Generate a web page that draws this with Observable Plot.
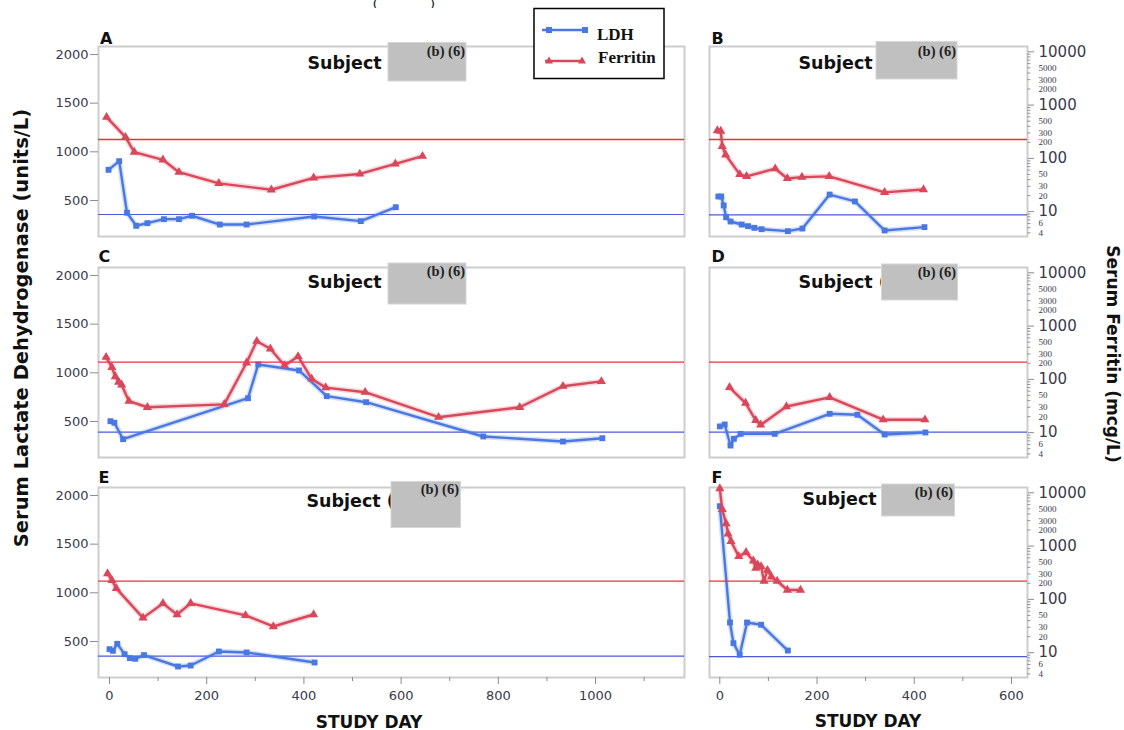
<!DOCTYPE html>
<html><head><meta charset="utf-8">
<script src="https://cdn.jsdelivr.net/npm/d3@7"></script>
<script src="https://cdn.jsdelivr.net/npm/@observablehq/plot@0.6"></script>
<style>
html,body{margin:0;padding:0;background:#fff;}
#root{position:relative;width:1124px;height:730px;overflow:hidden;font-family:"DejaVu Sans",sans-serif;}
.layer{position:absolute;}
</style></head>
<body><div id="root"></div>
<script>
// ---------------- DATA ----------------
// Panel A
const A_ldhDay = [-2, 20, 36, 55, 78, 112, 143, 170, 227, 282, 421, 517, 589];
const A_ldhVal = [815, 904, 374, 240, 267, 308, 308, 343, 253, 253, 336, 288, 431];
const A_ferDay = [-6, 33, 51, 110, 143, 225, 333, 420, 515, 588, 644];
const A_ferVal = [593, 250, 131, 94, 55, 34, 25.8, 43, 51, 79, 110];
// Panel B
const B_ldhDay = [-3, 3, 8, 13, 22, 45, 58, 71, 86, 140, 170, 226, 278, 339, 421];
const B_ldhVal = [541, 541, 449, 328, 284, 253, 236, 219, 205, 185, 212, 561, 490, 192, 226];
const B_ferDay = [-5, 2, 5, 12, 41, 55, 114, 139, 169, 225, 339, 419];
const B_ferVal = [333, 325, 169, 117, 50, 46, 64, 42, 44.5, 46, 23, 26];
// Panel C
const C_ldhDay = [2, 10, 28, 285, 306, 390, 447, 528, 769, 933, 1014];
const C_ldhVal = [503, 487, 318, 739, 1086, 1024, 760, 698, 346, 294, 328];
const C_ferDay = [-7, 5, 12, 19, 25, 40, 78, 236, 282, 303, 331, 360, 388, 416, 445, 526, 677, 844, 933, 1012];
const C_ferVal = [261, 169, 113, 89, 79, 39, 30, 34, 205, 521, 375, 182, 269, 102, 70, 57.5, 19.5, 30, 74.5, 91.5];
// Panel D
const D_ldhDay = [0, 10, 22, 29, 43, 113, 226, 283, 339, 423];
const D_ldhVal = [449, 469, 253, 322, 373, 373, 579, 569, 366, 387];
const D_ferDay = [20, 53, 74, 84, 137, 226, 336, 422];
const D_ferVal = [71, 36, 17, 14, 31, 46, 17.5, 17.5];
// Panel E
const E_ldhDay = [0, 7, 16, 31, 42, 53, 71, 141, 167, 225, 282, 422];
const E_ldhVal = [421, 404, 476, 370, 329, 322, 360, 243, 253, 397, 387, 284];
const E_ferDay = [-4, 5, 14, 69, 110, 139, 167, 280, 337, 420];
const E_ferVal = [305, 228, 161, 45, 84, 52, 84, 50, 31, 52];
// Panel F
const F_ldhDay = [0, 21, 28, 41, 56, 85, 140];
const F_ldhVal = [1890, 695, 483, 363, 695, 672, 407];
const F_ferDay = [0, 5, 13, 17, 23, 39, 54, 69, 74, 78, 85, 91, 98, 106, 118, 139, 166];
const F_ferVal = [12000, 4900, 2630, 1700, 1230, 640, 762, 530, 385, 446, 414, 221, 353, 264, 221, 150, 150];
// Reference lines (LDH upper limit, ferritin reference) per panel A..F
const ldhRef = [356, 353, 390, 390, 349, 345];
const ferRef = [226, 226, 210, 210, 220, 220];
// Ticks
const ldhTicks = [500, 1000, 1500, 2000];
const ferMajorTicks = [10, 100, 1000, 10000];
const ferSmallTicks = [4, 6, 20, 30, 50, 200, 300, 500, 2000, 3000, 5000];
const ferMinorTicks = [4, 5, 6, 7, 8, 9, 20, 30, 40, 50, 60, 70, 80, 90, 200, 300, 400, 500, 600, 700, 800, 900, 2000, 3000, 4000, 5000, 6000, 7000, 8000, 9000];
const dayTicksL = [0, 200, 400, 600, 800, 1000];
const dayMinorL = [100, 300, 500, 700, 900, 1100];
const dayTicksR = [0, 200, 400, 600];
const dayMinorR = [100, 300, 500];
const panelLetters = ["A", "B", "C", "D", "E", "F"];

// ---------------- LAYOUT ----------------
const BLUE = "#4a78e2", RED = "#d9475a";
const FRAME_H = 190, MT = 10, MB = 50;
const ROW_TOP = [46, 267, 487];
const COL = {
  L: {x0: 98, x1: 684, dom: [-22.6, 1183], mL: 60, mR: 12, major: dayTicksL, minor: dayMinorL},
  R: {x0: 709, x1: 1027, dom: [-21.2, 633], mL: 12, mR: 92, major: dayTicksR, minor: dayMinorR}
};
const LDH_DOM = [130, 2082];
const FER_DOM = [3.42, 12570];

const zip = (d, v) => d.map((x, i) => ({day: x, v: v[i]}));
const panels = [
  {ldh: zip(A_ldhDay, A_ldhVal), fer: zip(A_ferDay, A_ferVal), col: "L", row: 0},
  {ldh: zip(B_ldhDay, B_ldhVal), fer: zip(B_ferDay, B_ferVal), col: "R", row: 0},
  {ldh: zip(C_ldhDay, C_ldhVal), fer: zip(C_ferDay, C_ferVal), col: "L", row: 1},
  {ldh: zip(D_ldhDay, D_ldhVal), fer: zip(D_ferDay, D_ferVal), col: "R", row: 1},
  {ldh: zip(E_ldhDay, E_ldhVal), fer: zip(E_ferDay, E_ferVal), col: "L", row: 2},
  {ldh: zip(F_ldhDay, F_ldhVal), fer: zip(F_ferDay, F_ferVal), col: "R", row: 2}
];

const root = document.getElementById("root");

function place(svg, left, top) {
  const div = document.createElement("div");
  div.className = "layer";
  div.style.left = left + "px";
  div.style.top = top + "px";
  div.appendChild(svg);
  root.appendChild(div);
}

const fmt = d => String(d);

panels.forEach((p, i) => {
  const c = COL[p.col];
  const fw = c.x1 - c.x0;
  const width = c.mL + fw + c.mR;
  const height = MT + FRAME_H + MB;
  const left = c.x0 - c.mL, top = ROW_TOP[p.row] - MT;
  const daysPerPx = (c.dom[1] - c.dom[0]) / fw;
  const common = {
    width, height, marginLeft: c.mL, marginRight: c.mR, marginTop: MT, marginBottom: MB,
    style: {background: "none", fontFamily: "DejaVu Sans", color: "#3a3a4a", overflow: "visible"},
    x: {domain: c.dom, axis: null}
  };
  // LDH layer (linear)
  const ldhMarks = [
    Plot.frame({stroke: "#cdcdcd", strokeWidth: 2}),
    Plot.ruleY([ldhRef[i]], {stroke: "#4a5ad8", strokeWidth: 1.2}),
    Plot.line(p.ldh, {x: "day", y: "v", stroke: BLUE, strokeWidth: 5.5, strokeOpacity: 0.22}),
    Plot.line(p.ldh, {x: "day", y: "v", stroke: BLUE, strokeWidth: 2.4}),
    Plot.dot(p.ldh, {x: "day", y: "v", symbol: "square", r: 3.3, fill: BLUE})
  ];
  if (p.col === "L") {
    ldhMarks.push(Plot.axisY({anchor: "left", ticks: ldhTicks, tickSize: 8, tickPadding: 2, fontSize: 13, stroke: "#8c8c8c", tickFormat: fmt, label: null}));
  }
  if (p.row === 2) {
    const ppu = (LDH_DOM[1] - LDH_DOM[0]) / FRAME_H; // LDH units per px
    ldhMarks.push(Plot.axisX({anchor: "bottom", ticks: c.major, tickSize: 7, tickPadding: 6, fontSize: 13, stroke: "#8c8c8c", tickFormat: fmt, label: null}));
    ldhMarks.push(Plot.ruleX(c.minor, {x: d => d, y1: LDH_DOM[0], y2: LDH_DOM[0] - 4 * ppu, stroke: "#8c8c8c", strokeWidth: 1}));
  }
  place(Plot.plot({...common, y: {domain: LDH_DOM, axis: null}, marks: ldhMarks}), left, top);

  // Ferritin layer (log)
  const ferMarks = [
    Plot.ruleY([ferRef[i]], {stroke: "#e8323c", strokeWidth: 1.3}),
    Plot.line(p.fer, {x: "day", y: "v", stroke: RED, strokeWidth: 5.5, strokeOpacity: 0.22}),
    Plot.line(p.fer, {x: "day", y: "v", stroke: RED, strokeWidth: 2.4}),
    Plot.dot(p.fer, {x: "day", y: "v", symbol: "triangle", r: 3.4, fill: RED})
  ];
  if (p.col === "R") {
    const xEdge = c.dom[1];
    ferMarks.push(Plot.ruleY(ferMinorTicks, {y: d => d, x1: xEdge, x2: xEdge + 3.5 * daysPerPx, stroke: "#9a9a9a", strokeWidth: 1}));
    ferMarks.push(Plot.text(ferSmallTicks, {y: d => d, text: fmt, frameAnchor: "right", dx: 11, textAnchor: "start", fontSize: 9, fontFamily: "Liberation Serif", fill: "#3a3a4a"}));
    ferMarks.push(Plot.axisY({anchor: "right", ticks: ferMajorTicks, tickSize: 6, tickPadding: 5, fontSize: 15, stroke: "#8c8c8c", tickFormat: fmt, label: null}));
  }
  place(Plot.plot({...common, y: {type: "log", domain: FER_DOM, axis: null}, marks: ferMarks}), left, top);
});

// ---------------- ANNOTATIONS ----------------
const ann = d3.select(root).append("svg")
  .attr("width", 1124).attr("height", 730)
  .style("position", "absolute").style("left", 0).style("top", 0)
  .style("font-family", "DejaVu Sans");

// remnant of the title at the very top
ann.append("text").attr("x", 373).attr("y", 7).attr("font-size", 8).attr("font-weight", "bold").attr("fill", "#222").text("(");
ann.append("text").attr("x", 431).attr("y", 7).attr("font-size", 8).attr("font-weight", "bold").attr("fill", "#222").text(")");

const letterPos = [[100, 43.5], [711.5, 43.5], [98.5, 262], [711.5, 262], [98.5, 483], [711.5, 483]];
panelLetters.forEach((L, i) => {
  ann.append("text").attr("x", letterPos[i][0]).attr("y", letterPos[i][1])
    .attr("font-size", 16).attr("font-weight", "bold").attr("fill", "#111").text(L);
});

// Subject titles with redaction boxes
const subj = [
  {tx: 307.5, ty: 68.5, t: "Subject", bx: 388, by: 42.5, bw: 78, bh: 38.5, rx: 465, ry: 56},
  {tx: 798.5, ty: 68.5, t: "Subject", bx: 876, by: 41.5, bw: 81, bh: 37.5, rx: 956, ry: 56},
  {tx: 307.5, ty: 288, t: "Subject", bx: 388, by: 263, bw: 78, bh: 41, rx: 465, ry: 276},
  {tx: 798.5, ty: 288, t: "Subject (", bx: 881.5, by: 264, bw: 76, bh: 36, rx: 956, ry: 277},
  {tx: 306.5, ty: 507, t: "Subject (", bx: 391, by: 481.5, bw: 69.5, bh: 46, rx: 459, ry: 494},
  {tx: 802.5, ty: 505, t: "Subject", bx: 881.5, by: 484, bw: 73, bh: 32, rx: 953, ry: 497}
];
subj.forEach(s => {
  ann.append("text").attr("x", s.tx).attr("y", s.ty).attr("font-size", 17.5).attr("font-weight", "bold").attr("fill", "#111").text(s.t);
  ann.append("rect").attr("x", s.bx).attr("y", s.by).attr("width", s.bw).attr("height", s.bh).attr("fill", "#c0c0c0").attr("stroke", "#d6d6d6").attr("stroke-width", 1);
  ann.append("text").attr("x", s.rx).attr("y", s.ry).attr("text-anchor", "end").attr("font-family", "Liberation Serif")
    .attr("font-size", 14.5).attr("font-weight", "bold").attr("fill", "#222").text("(b) (6)");
});

// Legend
const lg = ann.append("g");
lg.append("rect").attr("x", 534).attr("y", 8.5).attr("width", 130).attr("height", 70).attr("fill", "#fff").attr("stroke", "#000").attr("stroke-width", 1.5);
lg.append("line").attr("x1", 542).attr("x2", 586).attr("y1", 30).attr("y2", 30).attr("stroke", BLUE).attr("stroke-width", 2.4);
[549, 585].forEach(x => lg.append("rect").attr("x", x - 3).attr("y", 27).attr("width", 6).attr("height", 6).attr("fill", BLUE));
lg.append("text").attr("x", 597).attr("y", 39.5).attr("font-family", "Liberation Serif").attr("font-weight", "bold").attr("font-size", 17).attr("fill", "#111").text("LDH");
lg.append("line").attr("x1", 545).attr("x2", 584).attr("y1", 61).attr("y2", 61).attr("stroke", RED).attr("stroke-width", 2.4);
[549, 582].forEach(x => lg.append("path").attr("d", `M${x},${56.5}L${x + 4},${63.5}L${x - 4},${63.5}Z`).attr("fill", RED));
lg.append("text").attr("x", 598).attr("y", 63).attr("font-family", "Liberation Serif").attr("font-weight", "bold").attr("font-size", 17).attr("fill", "#111").text("Ferritin");

// Axis titles
ann.append("text").attr("transform", "translate(21,328) rotate(-90)").attr("text-anchor", "middle").attr("dominant-baseline", "central")
  .attr("font-size", 19.5).attr("font-weight", "bold").attr("fill", "#111").text("Serum Lactate Dehydrogenase (units/L)");
ann.append("text").attr("transform", "translate(1113,354) rotate(90)").attr("text-anchor", "middle").attr("dominant-baseline", "central")
  .attr("font-size", 17).attr("font-weight", "bold").attr("fill", "#111").text("Serum Ferritin (mcg/L)");
ann.append("text").attr("x", 369).attr("y", 727.5).attr("text-anchor", "middle").attr("font-size", 17).attr("font-weight", "bold").attr("fill", "#111").text("STUDY DAY");
ann.append("text").attr("x", 868).attr("y", 727).attr("text-anchor", "middle").attr("font-size", 17).attr("font-weight", "bold").attr("fill", "#111").text("STUDY DAY");
</script>
</body></html>
